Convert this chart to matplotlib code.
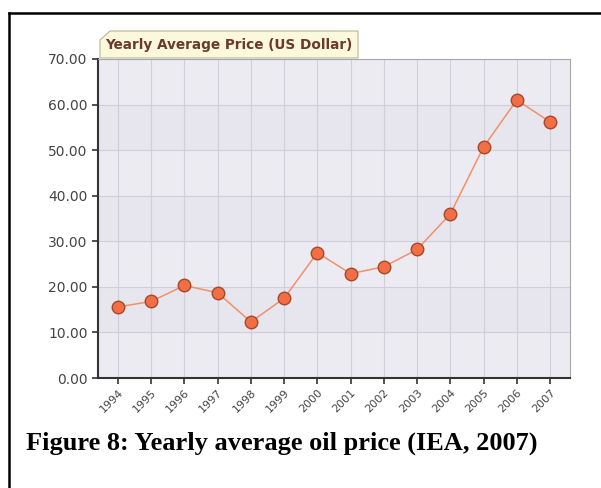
import matplotlib.pyplot as plt
from matplotlib.patches import Polygon
from matplotlib.lines import Line2D

years = ["1994", "1995", "1996", "1997", "1998", "1999", "2000",
         "2001", "2002", "2003", "2004", "2005", "2006", "2007"]
prices = [15.6, 16.8, 20.3, 18.7, 12.3, 17.5, 27.5,
          22.9, 24.4, 28.2, 36.0, 50.7, 61.0, 56.2]
y_ticks = [0, 10, 20, 30, 40, 50, 60, 70]

fig = plt.figure(figsize=(6.01, 4.88), dpi=100)
fig.patch.set_facecolor("white")

# plot area in figure pixel terms: x 98..570, y 59..378
W, H = 601, 488
ax = fig.add_axes([98 / W, 1 - 378 / H, (570 - 98) / W, (378 - 59) / H])
ax.set_facecolor("#EDEBF2")

x = list(range(len(years)))
ax.plot(x, prices, color="#F0906C", lw=1.1, zorder=3)
ax.plot(x, prices, ls="none", marker="o", ms=9, mfc="#F26F45",
        mec="#A5482A", mew=1.0, zorder=4)

ax.set_xlim(-0.6, len(years) - 0.4)
ax.set_ylim(0, 70)
ax.set_xticks(x)
ax.set_xticklabels(years, rotation=45, ha="right", rotation_mode="anchor",
                   fontsize=8, color="#444444")
ax.set_yticks(y_ticks)
ax.set_yticklabels([f"{v:.2f}" for v in y_ticks], fontsize=10, color="#444444")
ax.tick_params(axis="both", length=4, width=1.2, color="#333333")
ax.tick_params(axis="x", pad=3)

# alternating horizontal bands
for i in range(0, 70, 20):
    ax.axhspan(i + 10, i + 20, color="#E7E5ED", zorder=0)

ax.grid(True, color="#D2CED9", lw=0.8, zorder=1)
ax.set_axisbelow(True)
for s in ["left", "bottom"]:
    ax.spines[s].set_color("#333333")
    ax.spines[s].set_linewidth(1.5)
for s in ["top", "right"]:
    ax.spines[s].set_color("#A8A8A8")
    ax.spines[s].set_linewidth(0.8)

# title tab
tab = Polygon([(100 / W, 1 - 58 / H), (100 / W, 1 - 40 / H), (110 / W, 1 - 31 / H),
               (358 / W, 1 - 31 / H), (358 / W, 1 - 58 / H)],
              closed=True, transform=fig.transFigure, facecolor="#FCF8DC",
              edgecolor="#B8B49C", lw=0.8)
fig.patches.append(tab)
fig.text(105 / W, 1 - 45 / H, "Yearly Average Price (US Dollar)", fontsize=9.8,
         fontweight="bold", color="#6B3A2E", va="center", ha="left")

# outer frame lines (left and top)
fig.lines.append(Line2D([9 / W, 9 / W], [0, 1 - 13 / H], transform=fig.transFigure,
                        color="black", lw=1.8))
fig.lines.append(Line2D([9 / W, 1], [1 - 13 / H, 1 - 13 / H], transform=fig.transFigure,
                        color="black", lw=1.8))

fig.text(26 / W, 1 - 443 / H, "Figure 8: Yearly average oil price (IEA, 2007)",
         fontsize=19, fontweight="bold", family="Liberation Serif",
         color="black", va="center", ha="left")

fig.savefig("out.png", dpi=100)
